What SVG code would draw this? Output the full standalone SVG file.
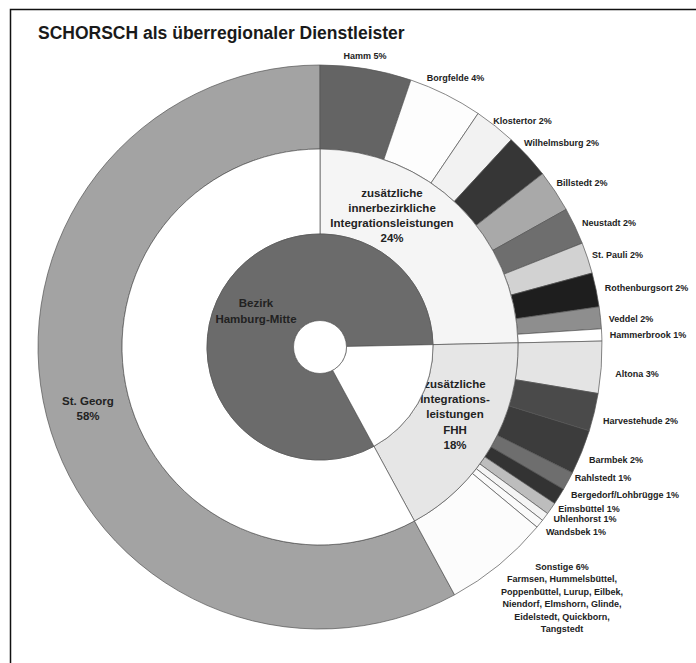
<svg xmlns="http://www.w3.org/2000/svg" width="696" height="663" viewBox="0 0 696 663">
<style>
.seg{stroke:#555;stroke-width:0.7;stroke-linejoin:round}
.lbl{font-family:"Liberation Sans",Arial,sans-serif;font-weight:bold;font-size:9px;fill:#222;text-anchor:middle}
.big{font-family:"Liberation Sans",Arial,sans-serif;font-weight:bold;font-size:11.5px;fill:#222;text-anchor:middle}
.title{font-family:"Liberation Sans",Arial,sans-serif;font-weight:bold;font-size:17.5px;fill:#1a1a1a}
</style>
<rect x="0" y="0" width="696" height="663" fill="#fff"/>
<path d="M10.5,663 V9.5 H696" fill="none" stroke="#111" stroke-width="1.5"/>
<text class="title" x="38" y="39">SCHORSCH als überregionaler Dienstleister</text>

<g id="outer-ring">
<g id="st-georg"><path class="seg" fill="#a3a3a3" d="M454.56,594.83 A282,282 0 1 1 320,65 L320,149 A198,198 0 1 0 414.48,521.01 Z"/><text class="big" x="88" y="405">St. Georg</text><text class="big" x="88" y="420">58%</text></g>
<g id="hamm"><path class="seg" fill="#646464" d="M320,65 A282,282 0 0 1 410.88,80.04 L383.81,159.56 A198,198 0 0 0 320,149 Z"/><text class="lbl" x="365" y="59">Hamm 5%</text></g>
<g id="borgfelde"><path class="seg" fill="#fdfdfd" d="M410.88,80.04 A282,282 0 0 1 478.09,113.48 L431,183.04 A198,198 0 0 0 383.81,159.56 Z"/><text class="lbl" x="455.5" y="81">Borgfelde 4%</text></g>
<g id="klostertor"><path class="seg" fill="#f2f2f2" d="M478.09,113.48 A282,282 0 0 1 511.24,139.76 L454.28,201.49 A198,198 0 0 0 431,183.04 Z"/><text class="lbl" x="522.5" y="124">Klostertor 2%</text></g>
<g id="wilhelmsburg"><path class="seg" fill="#363636" d="M511.24,139.76 A282,282 0 0 1 542.52,173.77 L476.24,225.37 A198,198 0 0 0 454.28,201.49 Z"/><text class="lbl" x="561.5" y="146">Wilhelmsburg 2%</text></g>
<g id="billstedt"><path class="seg" fill="#a9a9a9" d="M542.52,173.77 A282,282 0 0 1 566.16,209.42 L492.84,250.4 A198,198 0 0 0 476.24,225.37 Z"/><text class="lbl" x="582" y="186">Billstedt 2%</text></g>
<g id="neustadt"><path class="seg" fill="#6e6e6e" d="M566.16,209.42 A282,282 0 0 1 582.2,243.19 L504.1,274.11 A198,198 0 0 0 492.84,250.4 Z"/><text class="lbl" x="609" y="226">Neustadt 2%</text></g>
<g id="st-pauli"><path class="seg" fill="#d2d2d2" d="M582.2,243.19 A282,282 0 0 1 592.12,273.06 L511.06,295.09 A198,198 0 0 0 504.1,274.11 Z"/><text class="lbl" x="617.5" y="258">St. Pauli 2%</text></g>
<g id="rothenburgsort"><path class="seg" fill="#1e1e1e" d="M592.12,273.06 A282,282 0 0 1 599.12,306.78 L515.98,318.76 A198,198 0 0 0 511.06,295.09 Z"/><text class="lbl" x="646.5" y="291">Rothenburgsort 2%</text></g>
<g id="veddel"><path class="seg" fill="#8e8e8e" d="M599.12,306.78 A282,282 0 0 1 601.41,328.8 L517.59,334.22 A198,198 0 0 0 515.98,318.76 Z"/><text class="lbl" x="631" y="322">Veddel 2%</text></g>
<g id="hammerbrook"><path class="seg" fill="#ffffff" d="M601.41,328.8 A282,282 0 0 1 601.94,341.09 L517.96,342.85 A198,198 0 0 0 517.59,334.22 Z"/><text class="lbl" x="648" y="338">Hammerbrook 1%</text></g>
<g id="altona"><path class="seg" fill="#e4e4e4" d="M601.94,341.09 A282,282 0 0 1 598.13,393.54 L515.29,379.68 A198,198 0 0 0 517.96,342.85 Z"/><text class="lbl" x="637" y="377">Altona 3%</text></g>
<g id="harvestehude"><path class="seg" fill="#4a4a4a" d="M598.13,393.54 A282,282 0 0 1 589.24,430.86 L509.04,405.88 A198,198 0 0 0 515.29,379.68 Z"/><text class="lbl" x="640.5" y="424">Harvestehude 2%</text></g>
<g id="barmbek"><path class="seg" fill="#3c3c3c" d="M589.24,430.86 A282,282 0 0 1 572.37,472.83 L497.2,435.35 A198,198 0 0 0 509.04,405.88 Z"/><text class="lbl" x="616" y="463">Barmbek 2%</text></g>
<g id="rahlstedt"><path class="seg" fill="#6e6e6e" d="M572.37,472.83 A282,282 0 0 1 563.48,489.28 L490.95,446.9 A198,198 0 0 0 497.2,435.35 Z"/><text class="lbl" x="603" y="481">Rahlstedt 1%</text></g>
<g id="bergedorf"><path class="seg" fill="#333333" d="M563.48,489.28 A282,282 0 0 1 554.61,503.46 L484.73,456.86 A198,198 0 0 0 490.95,446.9 Z"/><text class="lbl" x="625" y="498">Bergedorf/Lohbrügge 1%</text></g>
<g id="eimsbuettel"><path class="seg" fill="#bdbdbd" d="M554.61,503.46 A282,282 0 0 1 547.56,513.55 L479.78,463.94 A198,198 0 0 0 484.73,456.86 Z"/><text class="lbl" x="589" y="512">Eimsbüttel 1%</text></g>
<g id="uhlenhorst"><path class="seg" fill="#f4f4f4" d="M547.56,513.55 A282,282 0 0 1 542.47,520.29 L476.2,468.67 A198,198 0 0 0 479.78,463.94 Z"/><text class="lbl" x="585" y="522">Uhlenhorst 1%</text></g>
<g id="wandsbek"><path class="seg" fill="#fafafa" d="M542.47,520.29 A282,282 0 0 1 536.97,527.13 L472.34,473.48 A198,198 0 0 0 476.2,468.67 Z"/><text class="lbl" x="576" y="535">Wandsbek 1%</text></g>
<g id="sonstige"><path class="seg" fill="#fcfcfc" d="M536.97,527.13 A282,282 0 0 1 454.56,594.83 L414.48,521.01 A198,198 0 0 0 472.34,473.48 Z"/>
<text class="lbl" x="562" y="570">Sonstige 6%</text>
<text class="lbl" x="562" y="582">Farmsen, Hummelsbüttel,</text>
<text class="lbl" x="562" y="594.5">Poppenbüttel, Lurup, Eilbek,</text>
<text class="lbl" x="562" y="607">Niendorf, Elmshorn, Glinde,</text>
<text class="lbl" x="562" y="619.5">Eidelstedt, Quickborn,</text>
<text class="lbl" x="562" y="632">Tangstedt</text></g>
</g>

<g id="middle-ring">
<g id="innerbezirkliche"><path class="seg" fill="#f5f5f5" d="M320,149 A198,198 0 0 1 517.96,342.85 L432.98,344.63 A113,113 0 0 0 320,234 Z"/>
<text class="big" x="392" y="197">zusätzliche</text>
<text class="big" x="392" y="212">innerbezirkliche</text>
<text class="big" x="392" y="227">Integrationsleistungen</text>
<text class="big" x="392" y="242">24%</text></g>
<g id="fhh"><path class="seg" fill="#e6e6e6" d="M517.96,342.85 A198,198 0 0 1 414.48,521.01 L373.92,446.31 A113,113 0 0 0 432.98,344.63 Z"/>
<text class="big" x="455" y="388">zusätzliche</text>
<text class="big" x="455" y="403">Integrations-</text>
<text class="big" x="455" y="418">leistungen</text>
<text class="big" x="455" y="434">FHH</text>
<text class="big" x="455" y="449">18%</text></g>
<g id="middle-rest"><path class="seg" fill="#ffffff" d="M414.48,521.01 A198,198 0 1 1 320,149 L320,234 A113,113 0 1 0 373.92,446.31 Z"/></g>
</g>

<g id="inner-ring">
<g id="bezirk"><path class="seg" fill="#6b6b6b" d="M373.92,446.31 A113,113 0 1 1 432.98,344.63 L346.49,346.45 A26.5,26.5 0 1 0 332.64,370.29 Z"/>
<text class="big" x="256" y="307">Bezirk</text>
<text class="big" x="256" y="323">Hamburg-Mitte</text></g>
<g id="inner-rest"><path class="seg" fill="#ffffff" d="M432.98,344.63 A113,113 0 0 1 373.92,446.31 L332.64,370.29 A26.5,26.5 0 0 0 346.49,346.45 Z"/></g>
<g id="hole"><circle class="seg" cx="320" cy="347" r="26.5" fill="#ffffff"/></g>
</g>
<g id="connectors"/>
</svg>
